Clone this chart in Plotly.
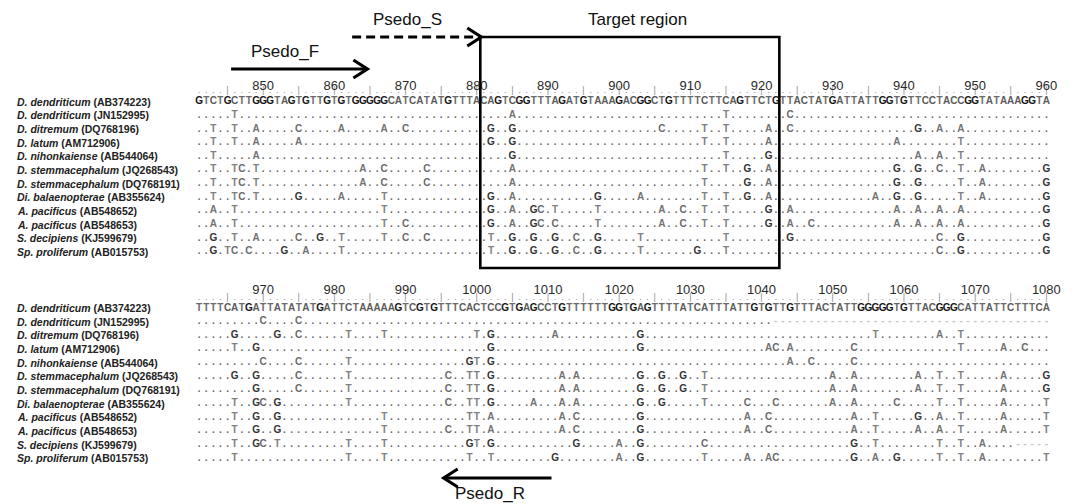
import plotly.graph_objects as go

# ---------------- data ----------------
species = ["D. dendriticum", "D. dendriticum", "D. ditremum", "D. latum", "D. nihonkaiense",
           "D. stemmacephalum", "D. stemmacephalum", "Di. balaenopterae", "A. pacificus",
           "A. pacificus", "S. decipiens", "Sp. proliferum"]
accessions = ["AB374223", "JN152995", "DQ768196", "AM712906", "AB544064", "JQ268543",
              "DQ768191", "AB355624", "AB548652", "AB548653", "KJ599679", "AB015753"]

top_start = 841
bottom_start = 961
top_ticks = [850, 860, 870, 880, 890, 900, 910, 920, 930, 940, 950, 960]
bottom_ticks = [970, 980, 990, 1000, 1010, 1020, 1030, 1040, 1050, 1060, 1070, 1080]

top_reference = ("GTCTGCTTGGGTAGTGTTGTGTGGGGGCATCATATGTTTACAGTCGGTTTAGATGTAAAG"
                 "ACGGCTGTTTTCTTCAGTTCTGTTACTATGATTATTGGTGTTCCTACCGGTATAAAGGTA")
bottom_reference = ("TTTTCATGATTATATATGATTCTAAAAAGTCGTGTTTCACTCCGTGAGCCTGTTTTTTGG"
                    "TGAGTTTTATCATTTATTGTGTTGTTTACTATTGGGGGTGTTACGGGCATTATTCTTTCA")

# differences from the reference sequence ("position + base"); '.' = identical
top_variants = [
    "846T 885A 915T 924C",
    "843T 846T 849A 855C 861A 867A 870C 882G 885G 906C 912T 915T 921A 924C 942G 945A 948A",
    "843T 846T 849A 855A 882G 885G 912T 915T 921A 939A 948T",
    "843T 849A 885G 915T 921G 942A 945A 948T",
    "843T 846T 847C 849T 864A 867C 873C 885A 912T 915T 918G 921A 939G 942G 945C 948T 951A 960G",
    "843T 846T 847C 849T 864A 867C 873C 885A 912T 918G 921A 939G 942G 948T 951A 960G",
    "843T 846T 847C 849T 855G 861A 867T 882G 885A 897G 903A 912T 915T 918G 921A 936A 939G 942G 948T 951A 960G",
    "843A 846T 867T 882G 885A 888G 889C 891T 897T 906A 909C 912T 915T 921G 924A 939A 942A 945A 948A 960G",
    "843A 846T 867T 870C 882G 885A 888G 889C 891C 897T 906A 909C 912T 915T 921G 924A 927C 939A 942A 945A 948A 960G",
    "843G 846T 849A 855C 858G 861T 867T 870C 873C 882T 885G 888G 891G 894C 897G 903T 915T 924G 945C 948G 960G",
    "843G 845T 846C 848C 853G 856A 861T 882T 885G 888G 891G 894C 897G 903T 911G 915T 945C 948G 960G",
]
bottom_variants = [
    "970C 975C",
    "966G 972G 975C 982T 987T 1000T 1002G 1011A 1023G 1056T 1065A 1068T",
    "966T 969G 1002G 1023G 1041A 1042C 1044A 1053C 1068T 1074A 1077C",
    "970C 975C 982T 999G 1000T 1002G 1044A 1047C 1053C",
    "966G 969G 975C 982T 996C 999T 1000T 1002G 1012A 1014A 1023G 1026G 1029G 1032T 1050A 1053A 1062A 1065T 1068T 1074A 1080G",
    "969G 975C 982T 996C 999T 1000T 1002G 1012A 1014A 1023G 1026G 1029G 1032T 1050A 1053A 1062A 1065T 1068T 1074A 1080G",
    "966T 969G 970C 972G 982T 996C 999T 1000T 1002G 1008A 1012A 1014A 1023G 1026G 1032T 1038C 1042C 1050A 1053A 1059C 1065T 1068T 1074A 1080T",
    "966T 969G 972G 987T 999T 1000T 1002A 1012A 1014C 1023G 1038A 1041C 1053A 1056T 1062G 1065A 1068T 1074A 1080T",
    "966T 969G 972G 987T 996C 999T 1000T 1002A 1012A 1014C 1023G 1038A 1041C 1053A 1056T 1062A 1065A 1068T 1074A 1080T",
    "966T 969G 970C 972T 982T 987T 999G 1000T 1002G 1014G 1020A 1023G 1032C 1053G 1056T 1065T 1068T 1071A",
    "966T 982T 987T 999T 1002T 1011G 1020A 1023G 1032T 1038A 1041A 1042C 1053G 1056A 1059G 1065T 1068T 1071A 1080T",
]
# alignment gaps (first, last position) per variant row of the lower block
bottom_gaps = {0: (1042, 1080), 9: (1076, 1080)}

# primers (first, last position) and target region
primer_F = (846, 864)
primer_S = (863, 880)
primer_R = (996, 1010)
target_region = (881, 922)

# ---------------- layout constants ----------------
W, H = 1079, 504
CHAR_W = 7.12
SEQ_LEFT = 195.5
ROW_H = 13.65
REF_Y_PX = 101.7
BOTTOM_REF_PX = 308.0


def px_to_y(px):
    return (px - REF_Y_PX) / ROW_H


bottom_off = px_to_y(BOTTOM_REF_PX)

x_lo = top_start - 0.5 + (0 - SEQ_LEFT) / CHAR_W
x_hi = top_start - 0.5 + (W - SEQ_LEFT) / CHAR_W
shift = bottom_start - top_start

ref_colors = {"G": "#151515", "A": "#5c5c5c", "T": "#6a6a6a", "C": "#5a5a5a"}
var_colors = {"G": "#333333", "A": "#727272", "T": "#808080", "C": "#6a6a6a",
              ".": "#666666", "-": "#c4c4c4"}


def build_block(reference, start, variants, gaps, yoff):
    xs, ys, txt, cols = [], [], [], []
    n = len(reference)
    for i, ch in enumerate(reference):
        xs.append(start + i); ys.append(yoff); txt.append(ch); cols.append(ref_colors[ch])
    for r, var in enumerate(variants):
        row = ["."] * n
        for tok in var.split():
            row[int(tok[:-1]) - start] = tok[-1]
        if r in gaps:
            for p in range(gaps[r][0], gaps[r][1] + 1):
                row[p - start] = "-"
        for i, ch in enumerate(row):
            xs.append(start + i); ys.append(yoff + r + 1); txt.append(ch)
            cols.append(var_colors[ch])
    return xs, ys, txt, cols


def ruler(start, n, yoff):
    xs = [start + i for i in range(n)]
    t = ["|" if p % 5 == 0 else "." for p in xs]
    return xs, [yoff] * n, t


fig = go.Figure()
seq_font = dict(family="Liberation Sans, Arial", size=10, weight="bold")

for (ref, start, variants, gaps, yoff, xa) in [
        (top_reference, top_start, top_variants, {}, 0.0, "x"),
        (bottom_reference, bottom_start, bottom_variants, bottom_gaps, bottom_off, "x2")]:
    xs, ys, txt, cols = build_block(ref, start, variants, gaps, yoff)
    fig.add_trace(go.Scatter(x=xs, y=ys, text=txt, mode="text", xaxis=xa, yaxis="y",
                             textposition="middle center", cliponaxis=False,
                             textfont=dict(color=cols, **seq_font), hoverinfo="skip",
                             showlegend=False))
    rx, ry, rt = ruler(start, len(ref), yoff - 0.78)
    fig.add_trace(go.Scatter(x=rx, y=ry, text=rt, mode="text", xaxis=xa, yaxis="y",
                             textposition="middle center", cliponaxis=False,
                             textfont=dict(color="#8a8a8a", family="Liberation Sans, Arial", size=9),
                             hoverinfo="skip", showlegend=False))

annotations = []
for r, (sp, acc) in enumerate(zip(species, accessions)):
    for yoff in (0.0, bottom_off):
        annotations.append(dict(xref="paper", yref="y", x=15 / W, y=yoff + r,
                                xanchor="left", yanchor="middle", showarrow=False,
                                text=f"<b><i>{sp}</i> ({acc})</b>",
                                font=dict(family="Liberation Sans, Arial", size=10.5, color="#222")))

lab_font = dict(family="Liberation Sans, Arial", size=17, color="#111")
annotations += [
    dict(xref="x", yref="y", x=853.1, y=px_to_y(51), text="Psedo_F", showarrow=False, font=lab_font),
    dict(xref="x", yref="y", x=870.3, y=px_to_y(19), text="Psedo_S", showarrow=False, font=lab_font),
    dict(xref="x", yref="y", x=902.6, y=px_to_y(19), text="Target region", showarrow=False, font=lab_font),
    dict(xref="x2", yref="y", x=1001.9, y=px_to_y(493), text="Psedo_R", showarrow=False, font=lab_font),
]

shapes = []
# target region box
shapes.append(dict(type="rect", xref="x", yref="y", x0=target_region[0] - 0.5, x1=target_region[1] + 0.5,
                   y0=px_to_y(37), y1=px_to_y(268), line=dict(color="#000", width=2.6)))


def arrow(xref, p0, p1, ypx, dash="solid"):
    y = px_to_y(ypx)
    shapes.append(dict(type="line", xref=xref, yref="y", x0=p0, x1=p1, y0=y, y1=y,
                       line=dict(color="#000", width=3.2, dash=dash)))
    path = "M -13,9 L 1,0 L -13,-9" if p1 > p0 else "M 13,9 L -1,0 L 13,-9"
    shapes.append(dict(type="path", xref=xref, yref="y", xsizemode="pixel", ysizemode="pixel",
                       xanchor=p1, yanchor=y, path=path, line=dict(color="#000", width=3.2)))


arrow("x", primer_F[0] - 0.5, primer_F[1] + 0.5, 69)
arrow("x", primer_S[0] - 0.5, primer_S[1] + 0.5, 37, dash="9px,5px")
arrow("x2", primer_R[1] + 0.5, primer_R[0] - 0.5, 478)

tick_font = dict(family="Liberation Sans, Arial", size=13, color="#2a2a2a")
fig.update_layout(
    width=W, height=H, margin=dict(l=0, r=0, t=0, b=0), autosize=False,
    paper_bgcolor="white", plot_bgcolor="white",
    xaxis=dict(range=[x_lo, x_hi], domain=[0, 1], anchor="free", position=1 - 93 / H, side="top",
               tickvals=top_ticks, ticktext=[str(t) for t in top_ticks], ticks="",
               showgrid=False, zeroline=False, showline=False, tickfont=tick_font, fixedrange=True),
    xaxis2=dict(range=[x_lo + shift, x_hi + shift], overlaying="x", anchor="free",
                position=1 - (BOTTOM_REF_PX - 11) / H, side="top",
                tickvals=bottom_ticks, ticktext=[str(t) for t in bottom_ticks], ticks="",
                showgrid=False, zeroline=False, showline=False, tickfont=tick_font, fixedrange=True),
    yaxis=dict(range=[px_to_y(H), px_to_y(0)], domain=[0, 1], anchor="x", visible=False,
               fixedrange=True),
    annotations=annotations, shapes=shapes,
)

fig.write_html("out.html", config={"displayModeBar": False},
               post_script="document.body.style.margin='0';")
